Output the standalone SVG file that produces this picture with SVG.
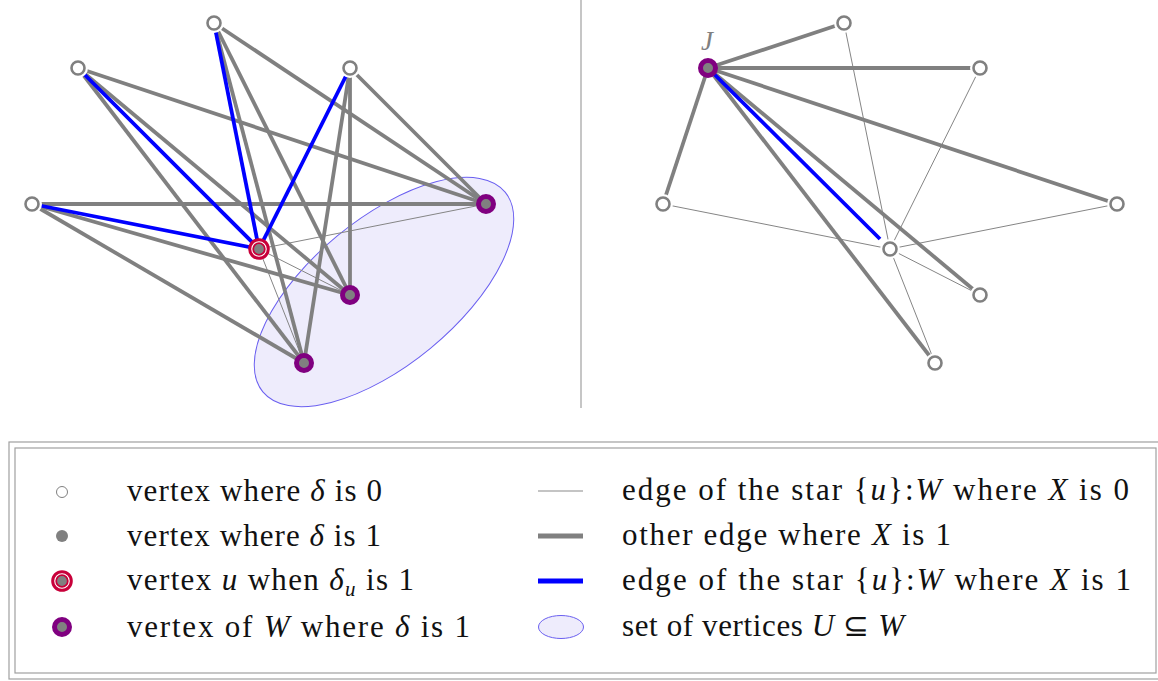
<svg xmlns="http://www.w3.org/2000/svg" width="1158" height="681" viewBox="0 0 1158 681">
<style>
.thin{stroke:#858585;stroke-width:1;fill:none}
.thick{stroke:#808080;stroke-width:3.8;fill:none}
.blue{stroke:#0000ff;stroke-width:3.8;fill:none}
.halo{fill:#ffffff;stroke:none}
.open{fill:#ffffff;stroke:#808080;stroke-width:2.6}
.wv{fill:#808080;stroke:#800080;stroke-width:5}
.uo{fill:#ffffff;stroke:#c8003a;stroke-width:3}
.ui{fill:#808080;stroke:#c8003a;stroke-width:1.8}
.lab{font-family:"Liberation Serif",serif;font-size:31px;fill:#111}
.it{font-style:italic}
.sub{font-style:italic;font-size:21px}
.frame{fill:none;stroke:#a0a0a0;stroke-width:1.2}
</style>
<rect width="1158" height="681" fill="#ffffff"/>
<line x1="581" y1="0" x2="581" y2="408" stroke="#a0a0a0" stroke-width="1.2"/>
<g id="setU">
<ellipse cx="384" cy="292" rx="157" ry="73" transform="rotate(-39.5 384 292)" fill="#eeecfc" stroke="#6a5ff0" stroke-width="1"/>
</g>
<g id="connectors">
<line class="thin" x1="259" y1="249" x2="486" y2="204"/>
<line class="thin" x1="259" y1="249" x2="350" y2="295"/>
<line class="thin" x1="259" y1="249" x2="304" y2="363"/>
<line class="thick" x1="214" y1="23" x2="486" y2="204"/>
<line class="thick" x1="214" y1="23" x2="350" y2="295"/>
<line class="thick" x1="214" y1="23" x2="304" y2="363"/>
<line class="thick" x1="78" y1="68" x2="486" y2="204"/>
<line class="thick" x1="78" y1="68" x2="350" y2="295"/>
<line class="thick" x1="78" y1="68" x2="304" y2="363"/>
<line class="thick" x1="350" y1="68" x2="486" y2="204"/>
<line class="thick" x1="350" y1="68" x2="350" y2="295"/>
<line class="thick" x1="350" y1="68" x2="304" y2="363"/>
<line class="thick" x1="32" y1="204" x2="486" y2="204"/>
<line class="thick" x1="32" y1="204" x2="350" y2="295"/>
<line class="thick" x1="32" y1="204" x2="304" y2="363"/>
<line class="blue" x1="214" y1="23" x2="259" y2="249"/>
<line class="blue" x1="78" y1="68" x2="259" y2="249"/>
<line class="blue" x1="350" y1="68" x2="259" y2="249"/>
<line class="blue" x1="32" y1="204" x2="259" y2="249"/>
<line class="thin" x1="890" y1="249" x2="844" y2="23"/>
<line class="thin" x1="890" y1="249" x2="980" y2="68"/>
<line class="thin" x1="890" y1="249" x2="1117" y2="204"/>
<line class="thin" x1="890" y1="249" x2="663" y2="204"/>
<line class="thin" x1="890" y1="249" x2="980" y2="295"/>
<line class="thin" x1="890" y1="249" x2="935" y2="363"/>
<line class="thick" x1="708" y1="68" x2="844" y2="23"/>
<line class="thick" x1="708" y1="68" x2="980" y2="68"/>
<line class="thick" x1="708" y1="68" x2="1117" y2="204"/>
<line class="thick" x1="708" y1="68" x2="663" y2="204"/>
<line class="thick" x1="708" y1="68" x2="980" y2="295"/>
<line class="thick" x1="708" y1="68" x2="935" y2="363"/>
<line class="blue" x1="708" y1="68" x2="880" y2="239"/>
</g>
<g id="vA"><circle class="halo" cx="214" cy="23" r="10"/><circle class="open" cx="214" cy="23" r="6.5"/></g>
<g id="vB"><circle class="halo" cx="78" cy="68" r="10"/><circle class="open" cx="78" cy="68" r="6.5"/></g>
<g id="vC"><circle class="halo" cx="350" cy="68" r="10"/><circle class="open" cx="350" cy="68" r="6.5"/></g>
<g id="vD"><circle class="halo" cx="32" cy="204" r="10"/><circle class="open" cx="32" cy="204" r="6.5"/></g>
<g id="vU"><circle class="uo" cx="259" cy="249" r="9.3"/><circle class="ui" cx="259" cy="249" r="5.8"/></g>
<g id="vW1"><circle class="wv" cx="486" cy="204" r="7.5"/></g>
<g id="vW2"><circle class="wv" cx="350" cy="295" r="7.5"/></g>
<g id="vW3"><circle class="wv" cx="304" cy="363" r="7.5"/></g>
<g id="vJ"><circle class="wv" cx="708" cy="68" r="7.5"/><text x="707" y="50" text-anchor="middle" font-family="Liberation Serif, serif" font-style="italic" font-size="27" fill="#808080">J</text></g>
<g id="vP1"><circle class="halo" cx="844" cy="23" r="10"/><circle class="open" cx="844" cy="23" r="6.5"/></g>
<g id="vP2"><circle class="halo" cx="980" cy="68" r="10"/><circle class="open" cx="980" cy="68" r="6.5"/></g>
<g id="vP3"><circle class="halo" cx="1117" cy="204" r="10"/><circle class="open" cx="1117" cy="204" r="6.5"/></g>
<g id="vP4"><circle class="halo" cx="663" cy="204" r="10"/><circle class="open" cx="663" cy="204" r="6.5"/></g>
<g id="vX"><circle class="halo" cx="890" cy="249" r="10"/><circle class="open" cx="890" cy="249" r="6.5"/></g>
<g id="vP5"><circle class="halo" cx="980" cy="295" r="10"/><circle class="open" cx="980" cy="295" r="6.5"/></g>
<g id="vP6"><circle class="halo" cx="935" cy="363" r="10"/><circle class="open" cx="935" cy="363" r="6.5"/></g>
<g id="legend">
<rect class="frame" x="9" y="442" width="1170" height="237"/>
<rect class="frame" x="15" y="448" width="1141" height="225"/>
<circle cx="62" cy="492" r="5.5" fill="#ffffff" stroke="#808080" stroke-width="1"/>
<circle cx="62" cy="536" r="6" fill="#808080"/>
<circle class="uo" cx="62" cy="581" r="9.3"/><circle class="ui" cx="62" cy="581" r="5.8"/>
<circle class="wv" cx="62" cy="627" r="7.5"/>
<line x1="538" y1="491" x2="583" y2="491" stroke="#b0b0b0" stroke-width="1.5"/>
<line x1="538" y1="536" x2="583" y2="536" stroke="#808080" stroke-width="5"/>
<line x1="538" y1="581" x2="583" y2="581" stroke="#0000ff" stroke-width="5"/>
<ellipse cx="561" cy="627" rx="22.5" ry="11.5" fill="#eeecfc" stroke="#6a5ff0" stroke-width="1"/>
<text class="lab" x="127" y="501" textLength="255" lengthAdjust="spacing">vertex where <tspan class="it">δ</tspan> is 0</text>
<text class="lab" x="127" y="546" textLength="254" lengthAdjust="spacing">vertex where <tspan class="it">δ</tspan> is 1</text>
<text class="lab" x="127" y="590" textLength="287" lengthAdjust="spacing">vertex <tspan class="it">u</tspan> when <tspan class="it">δ</tspan><tspan class="sub" dy="6">u</tspan><tspan dy="-6"> is 1</tspan></text>
<text class="lab" x="127" y="637" textLength="343" lengthAdjust="spacing">vertex of <tspan class="it">W</tspan> where <tspan class="it">δ</tspan> is 1</text>
<text class="lab" x="622" y="500" textLength="507" lengthAdjust="spacing">edge of the star {<tspan class="it">u</tspan>}:<tspan class="it">W</tspan> where <tspan class="it">X</tspan> is 0</text>
<text class="lab" x="622" y="545" textLength="329" lengthAdjust="spacing">other edge where <tspan class="it">X</tspan> is 1</text>
<text class="lab" x="622" y="590" textLength="509" lengthAdjust="spacing">edge of the star {<tspan class="it">u</tspan>}:<tspan class="it">W</tspan> where <tspan class="it">X</tspan> is 1</text>
<text class="lab" x="622" y="636" textLength="282" lengthAdjust="spacing">set of vertices <tspan class="it">U</tspan> ⊆ <tspan class="it">W</tspan></text>
</g>
</svg>
